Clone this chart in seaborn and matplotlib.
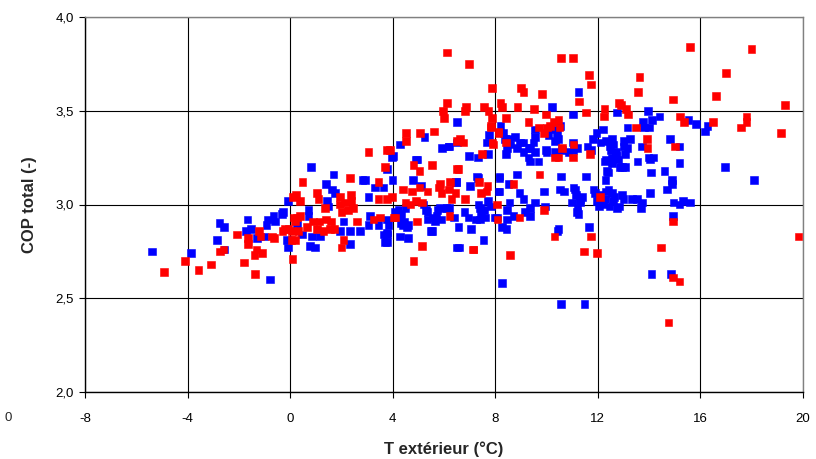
import matplotlib
matplotlib.use("Agg")
import matplotlib.pyplot as plt
import matplotlib.ticker as mticker
import numpy as np
import pandas as pd
import seaborn as sns

# Outdoor temperature (°C) and total COP, two measurement series
blue_t = [
    -5.39, -3.87, -2.76, -2.59, -2.86, -2.56, -1.66, -1.53, -1.71, -0.87, -0.65, -0.58, -0.32, -0.92, -1.30, -1.00, -0.12, -0.09, -0.78, -0.09,
    0.82, 1.69, 2.82, 2.93, 1.40, 1.63, 1.76, 3.32, 3.64, 3.05, -0.29, 0.71, 0.71, 1.43, 1.50, 2.08, 1.95, 2.34, 2.73, 3.12, 3.05, 3.44, 3.77,
    0.46, 0.85, 0.78, 0.98, 1.17, 2.34, 0.26, 3.71, 3.64,
    4.03, 4.94, 4.78, 5.10, 5.92, 6.20, 6.50, 4.22, 4.30, 4.45, 4.60, 4.29, 4.60, 5.30, 5.70, 5.85, 6.20, 6.40, 5.50, 6.50, 5.20,
    6.50, 7.76, 5.24, 4.29, 7.67, 3.97, 6.98, 7.32, 4.90, 7.71, 3.77, 3.99, 6.46, 7.02, 7.32, 7.71, 7.84, 4.10, 4.35, 4.20, 4.50,
    5.35, 5.55, 5.75, 5.90, 6.10, 5.65, 5.35, 6.80, 6.95, 7.25, 7.40, 7.55, 4.40, 4.55, 4.30, 3.77, 3.83, 6.57, 7.06, 5.53, 3.77,
    7.54, 6.59, 3.77,
    11.25, 10.20, 12.74, 11.03, 8.21, 8.32, 8.39, 8.78, 8.97, 8.84, 9.56, 9.56, 9.49, 10.07, 10.40, 10.34, 10.53, 9.99, 10.34, 9.29,
    9.36, 9.68, 9.29, 9.10, 8.45, 8.41, 6.18, 11.03, 11.05, 11.60, 11.80, 11.95, 12.10, 11.75, 12.20, 12.30, 12.45, 12.50, 12.30,
    12.55, 12.70, 12.85, 8.84, 8.16, 7.28, 10.56, 11.54, 12.39,
    8.16, 12.30, 8.16, 8.94, 9.10, 9.91, 10.53, 10.69, 11.05, 11.15, 11.31, 11.38, 11.83, 11.96, 12.29, 12.41, 8.56, 8.45, 9.17, 9.36,
    8.06, 8.25, 8.71, 9.95, 10.99, 11.18, 12.05, 11.24, 11.65, 10.47, 8.60, 8.50, 10.20, 10.45, 9.10, 9.36, 9.56, 9.98, 10.60, 10.85,
    11.20, 12.29, 12.35,
    6.47, 8.13, 8.52, 11.10, 11.30, 11.20, 11.90, 12.05, 12.30, 12.55, 12.45, 12.20, 7.35, 7.45, 7.60, 7.40, 8.45, 8.43, 8.00, 9.36,
    9.56, 10.43, 8.25, 10.56, 11.48,
    13.95, 13.77, 14.10, 14.40, 14.00, 13.80, 13.16, 15.54, 15.83, 16.28, 16.19, 13.00, 13.26, 12.56, 12.60, 14.82, 15.18, 12.70,
    13.00, 13.15, 13.05, 13.72, 12.55, 12.80, 13.97, 14.17, 14.04, 13.55, 12.94, 13.07, 14.08, 14.60, 15.18, 16.97, 18.10, 14.89,
    12.65, 12.95, 13.00, 12.85, 12.60, 12.75, 13.33, 13.52, 13.72, 14.04, 14.69, 14.89, 13.68, 14.95, 15.18, 15.31, 15.60, 14.92,
    14.09, 14.85,
]
blue_cop = [
    2.75, 2.74, 2.90, 2.88, 2.81, 2.76, 2.92, 2.87, 2.86, 2.92, 2.94, 2.91, 2.95, 2.89, 2.82, 2.83, 2.81, 2.77, 2.60, 3.02,
    3.20, 3.16, 3.13, 3.13, 3.11, 3.08, 3.06, 3.09, 3.09, 3.04, 2.96, 2.97, 2.94, 3.02, 2.99, 2.91, 2.86, 2.86, 2.86, 2.94, 2.89, 2.89, 2.85,
    2.84, 2.83, 2.78, 2.77, 2.83, 2.79, 2.89, 2.80, 2.84,
    3.26, 3.24, 3.13, 3.10, 3.30, 3.31, 3.33, 2.97, 2.93, 2.91, 2.89, 2.83, 2.82, 2.97, 2.94, 2.98, 2.98, 2.93, 2.86, 2.77, 3.00,
    3.44, 3.37, 3.36, 3.32, 3.33, 3.25, 3.26, 3.25, 3.24, 3.27, 3.19, 3.13, 3.12, 3.10, 3.14, 3.02, 2.99, 2.96, 2.95, 2.93, 2.98,
    2.96, 2.93, 2.97, 2.92, 2.98, 2.91, 2.92, 2.96, 2.93, 2.92, 2.92, 2.97, 2.89, 2.88, 2.90, 2.92, 2.89, 2.88, 2.87, 2.86, 2.84,
    2.81, 2.77, 2.80,
    3.60, 3.52, 3.49, 3.48, 3.42, 3.38, 3.35, 3.36, 3.33, 3.30, 3.40, 3.36, 3.33, 3.37, 3.38, 3.34, 3.42, 3.28, 3.28, 3.25,
    3.23, 3.23, 3.30, 3.28, 3.30, 3.27, 3.31, 3.33, 3.29, 3.31, 3.35, 3.38, 3.33, 3.29, 3.40, 3.34, 3.31, 3.29, 3.24,
    3.22, 3.26, 3.20, 3.16, 3.15, 3.15, 3.15, 3.15, 3.17,
    3.14, 3.13, 3.07, 3.06, 3.03, 3.07, 3.08, 3.07, 3.09, 3.05, 3.01, 3.04, 3.08, 3.02, 3.03, 3.08, 3.01, 2.97, 2.96, 2.98,
    2.93, 2.88, 2.94, 2.99, 3.01, 2.96, 2.99, 2.95, 2.88, 2.87, 3.32, 3.35, 3.40, 3.35, 3.33, 3.30, 3.28, 3.29, 3.29, 3.28,
    3.30, 3.23, 3.18,
    3.12, 3.07, 3.11, 3.08, 3.03, 2.98, 3.06, 3.05, 3.07, 3.06, 2.99, 3.00, 3.00, 2.95, 2.93, 2.98, 2.92, 2.87, 2.93, 2.94,
    3.01, 2.86, 2.58, 2.47, 2.47,
    3.50, 3.44, 3.45, 3.47, 3.41, 3.41, 3.41, 3.45, 3.43, 3.42, 3.39, 3.34, 3.35, 3.35, 3.32, 3.35, 3.31, 3.28,
    3.31, 3.30, 3.27, 3.31, 3.25, 3.24, 3.25, 3.25, 3.24, 3.23, 3.20, 3.20, 3.17, 3.18, 3.22, 3.20, 3.13, 3.13,
    3.04, 3.05, 3.03, 2.99, 3.02, 2.98, 3.03, 3.03, 3.01, 3.06, 3.08, 3.11, 2.98, 3.01, 3.00, 3.02, 3.01, 2.94,
    2.63, 2.63,
]

red_t = [
    -4.91, -4.10, -3.58, -3.09, -2.74, -2.60, -2.08, -1.79, -1.64, -1.64, -1.38, -1.31, -1.39, -1.10, -1.21, -1.16, -0.71, -0.62, -0.30, -0.07,
    0.13, 0.09, 0.10, 0.06,
    0.48, 2.34, 3.44, 3.05, 3.71, 1.04, 1.11, 0.23, 0.39, 1.95, 2.38, 3.44, 3.77, 1.95, 2.15, 2.40, 2.00, 2.25, 2.45, 1.37, 0.26, 0.20,
    0.39, 0.90, 1.15, 1.40, 1.60, -0.20, 0.07, 0.32, 0.65, 1.04, 1.30, 1.56, 2.60, 3.25, 3.51, 0.20, 2.08, 2.01, 1.73, 3.90,
    4.52, 4.52, 5.07, 5.60, 4.81, 5.04, 5.53, 5.85, 6.24, 4.40, 4.75, 5.05, 5.35, 4.50, 4.70, 4.90, 5.15, 5.90, 6.20, 6.30, 4.03,
    4.94, 6.22, 5.14, 4.81, 6.50,
    6.11, 6.11, 5.95, 6.00, 6.83, 7.73, 7.87, 7.84, 6.63, 6.76, 6.50, 3.77, 7.89, 7.48, 6.57, 5.80, 6.45, 7.37, 7.70, 7.45, 7.65,
    6.83, 3.97, 4.10, 7.15,
    6.98, 10.56, 11.03, 11.66, 11.74, 7.87, 9.00, 9.10, 9.82, 11.27, 6.85, 7.57, 8.21, 8.25, 8.87, 9.52, 9.98, 11.54, 12.26, 12.25,
    12.83, 8.42, 9.29, 7.83, 9.70, 10.01, 10.27, 10.47, 9.91, 8.13, 8.42, 7.90, 10.60, 11.05, 11.70, 10.34, 10.47, 11.03, 9.72,
    10.14, 10.50, 8.12, 8.71, 12.09, 8.06, 8.09, 8.94, 9.91,
    10.31, 11.73, 7.12, 8.58, 11.47, 11.96,
    15.60, 17.99, 17.00, 13.62, 13.56, 16.61, 14.93, 19.29, 12.90, 13.09, 13.17, 15.21, 15.37, 13.49, 16.49, 17.80, 17.80, 17.59,
    19.14, 13.91, 13.94, 15.02,
    14.92, 14.46, 14.92, 15.18, 14.75, 19.83,
]
red_cop = [
    2.64, 2.70, 2.65, 2.68, 2.75, 2.76, 2.84, 2.69, 2.82, 2.79, 2.63, 2.76, 2.73, 2.74, 2.86, 2.83, 2.83, 2.82, 2.86, 2.87,
    2.93, 2.71, 3.04, 2.81,
    3.12, 3.14, 3.12, 3.28, 3.20, 3.06, 3.03, 3.05, 3.02, 3.04, 3.05, 3.03, 3.03, 3.00, 3.01, 3.02, 2.96, 2.97, 2.98, 2.98, 2.93, 2.91,
    2.94, 2.91, 2.91, 2.92, 2.91, 2.87, 2.86, 2.86, 2.88, 2.87, 2.86, 2.87, 2.91, 2.92, 2.93, 2.81, 2.81, 2.77, 2.87, 3.29,
    3.38, 3.34, 3.38, 3.39, 3.21, 3.18, 3.21, 3.11, 3.12, 3.08, 3.07, 3.09, 3.07, 3.01, 3.00, 3.02, 3.01, 3.06, 3.08, 3.03, 2.93,
    2.91, 2.94, 2.78, 2.70, 3.19,
    3.81, 3.54, 3.50, 3.46, 3.50, 3.50, 3.46, 3.42, 3.35, 3.33, 3.34, 3.29, 3.33, 3.27, 3.19, 3.09, 3.06, 3.12, 3.10, 3.06, 3.07,
    3.03, 3.04, 2.93, 2.76,
    3.75, 3.78, 3.78, 3.69, 3.64, 3.62, 3.62, 3.60, 3.59, 3.55, 3.52, 3.52, 3.54, 3.52, 3.52, 3.51, 3.48, 3.49, 3.51, 3.47,
    3.54, 3.46, 3.44, 3.41, 3.41, 3.41, 3.44, 3.45, 3.38, 3.38, 3.33, 3.32, 3.30, 3.32, 3.27, 3.25, 3.25, 3.25, 3.16,
    3.42, 3.41, 3.39, 3.11, 3.04, 3.00, 2.92, 2.93, 2.97,
    2.83, 2.83, 2.76, 2.73, 2.75, 2.74,
    3.84, 3.83, 3.70, 3.68, 3.60, 3.58, 3.56, 3.53, 3.53, 3.51, 3.48, 3.47, 3.44, 3.41, 3.44, 3.47, 3.44, 3.41,
    3.38, 3.35, 3.30, 3.31,
    2.91, 2.77, 2.61, 2.59, 2.37, 2.83,
]

x_ticks = [-8, -4, 0, 4, 8, 12, 16, 20]
y_ticks = [2.0, 2.5, 3.0, 3.5, 4.0]

df = pd.concat([
    pd.DataFrame({"T": blue_t, "COP": blue_cop, "serie": "bleu"}),
    pd.DataFrame({"T": red_t, "COP": red_cop, "serie": "rouge"}),
], ignore_index=True)

sns.set_theme(style="white")
plt.rcParams["font.family"] = ["Liberation Sans", "DejaVu Sans"]

fig = plt.figure(figsize=(8.16, 4.59), dpi=100)
ax = fig.add_axes([85 / 816, 1 - 392 / 459, (803 - 85) / 816, (392 - 17) / 459])

sns.scatterplot(data=df, x="T", y="COP", hue="serie",
                palette={"bleu": "#0000FF", "rouge": "#FF0000"},
                marker="s", s=30, linewidth=0.4, edgecolor="face",
                legend=False, ax=ax, zorder=3)

ax.set_xlim(-8, 20)
ax.set_ylim(2.0, 4.0)
ax.set_xticks(x_ticks)
ax.set_yticks(y_ticks)
ax.yaxis.set_major_formatter(mticker.FuncFormatter(lambda v, p: f"{v:.1f}".replace(".", ",")))
ax.xaxis.set_major_formatter(mticker.FuncFormatter(lambda v, p: f"{v:g}"))

ax.grid(True, color="black", linewidth=0.8, zorder=0)
ax.set_axisbelow(True)
for side in ["top", "right"]:
    ax.spines[side].set_color("#808080")
    ax.spines[side].set_linewidth(1.0)
for side in ["left", "bottom"]:
    ax.spines[side].set_color("black")
    ax.spines[side].set_linewidth(1.0)

ax.tick_params(axis="both", which="major", direction="out", length=4, width=0.8,
               color="black", labelsize=9.5, labelcolor="black",
               bottom=True, left=True)
ax.tick_params(axis="x", pad=11)
ax.tick_params(axis="y", pad=4)

ax.set_xlabel("T extérieur (°C)", fontsize=12, fontweight="bold", labelpad=12)
ax.set_ylabel("COP total (-)", fontsize=12, fontweight="bold", labelpad=13)

fig.text(8 / 816, 1 - 418 / 459, "0", fontsize=9.5, ha="center", va="center")

fig.savefig("out.png", dpi=100)
